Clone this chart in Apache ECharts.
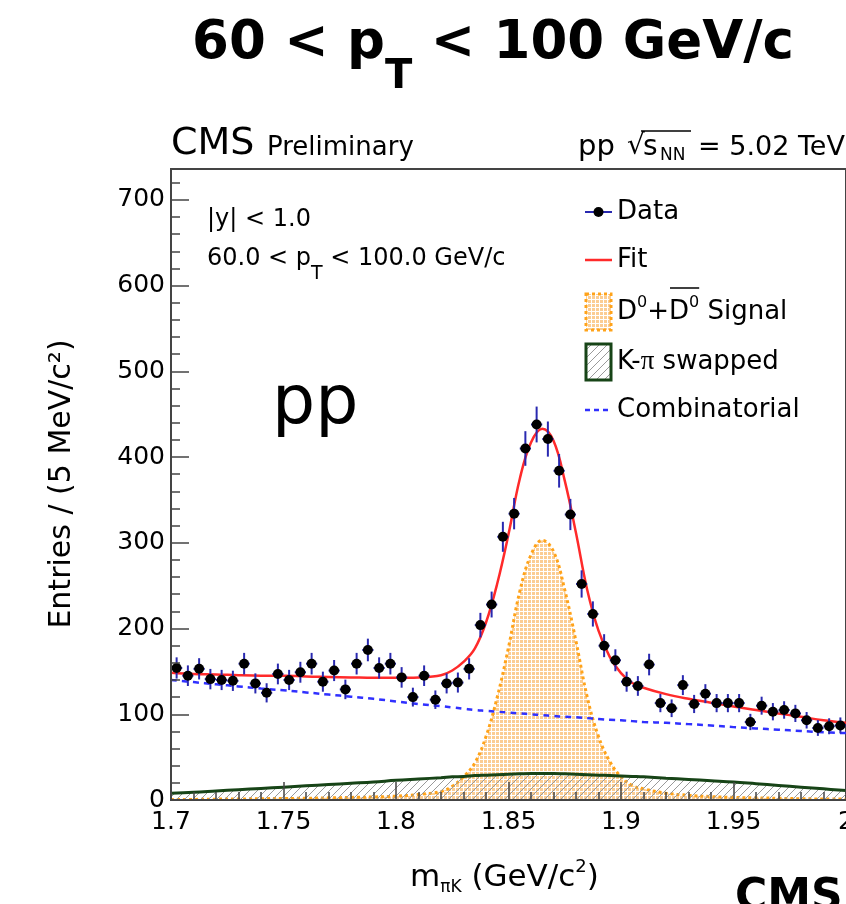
<!DOCTYPE html>
<html>
<head>
<meta charset="utf-8">
<script src="https://cdn.jsdelivr.net/npm/echarts@6/dist/echarts.min.js"></script>
<style>
html,body{margin:0;padding:0;background:#fff;}
#chart{width:846px;height:904px;}
</style>
</head>
<body>
<div id="chart"></div>
<script>
// ---------------- data ----------------
const xTicks = [1.7, 1.75, 1.8, 1.85, 1.9, 1.95, 2.0];
const yTicks = [0, 100, 200, 300, 400, 500, 600, 700];

const massBins = [1.7025,1.7075,1.7125,1.7175,1.7225,1.7275,1.7325,1.7375,1.7425,1.7475,
1.7525,1.7575,1.7625,1.7675,1.7725,1.7775,1.7825,1.7875,1.7925,1.7975,
1.8025,1.8075,1.8125,1.8175,1.8225,1.8275,1.8325,1.8375,1.8425,1.8475,
1.8525,1.8575,1.8625,1.8675,1.8725,1.8775,1.8825,1.8875,1.8925,1.8975,
1.9025,1.9075,1.9125,1.9175,1.9225,1.9275,1.9325,1.9375,1.9425,1.9475,
1.9525,1.9575,1.9625,1.9675,1.9725,1.9775,1.9825,1.9875,1.9925,1.9975];

const entries = [154,145,153,141,140,139,159,136,125,147,
140,149,159,138,151,129,159,175,154,159,
143,120,145,117,136,137,153,204,228,307,
334,410,438,421,384,333,252,217,180,163,
138,133,158,113,107,134,112,124,113,113,
113,91,110,103,105,101,93,84,86,87];

const entryErrors = [12.4,12.0,12.4,11.9,11.8,11.8,12.6,11.7,11.2,12.1,
11.8,12.2,12.6,11.7,12.3,11.4,12.6,13.2,12.4,12.6,
12.0,11.0,12.0,10.8,11.7,11.7,12.4,14.3,15.1,17.5,
18.3,20.2,20.9,20.5,19.6,18.2,15.9,14.7,13.4,12.8,
11.7,11.5,12.6,10.6,10.3,11.6,10.6,11.1,10.6,10.6,
10.6,9.5,10.5,10.1,10.2,10.0,9.6,9.2,9.3,9.3];

const curveMass = [1.700,1.710,1.720,1.730,1.740,1.750,1.760,1.770,1.780,1.790,1.800,1.810,1.820,
1.825,1.830,1.835,1.840,1.845,1.850,1.855,1.860,1.865,1.870,1.875,1.880,1.885,1.890,1.895,1.900,1.905,1.910,
1.920,1.930,1.940,1.950,1.960,1.970,1.980,1.990,2.000];

const fitCurve = [148.5,147,146.5,145.5,145,145,144,143.5,143,142.5,142.5,143,145.5,
151,161,176.5,207,252.5,310,374.5,417,433,419,372.5,311.5,245,197.5,167,148,136.5,131,
123.5,118,113.5,109,105,101,97,93,90];

const signalCurve = [0.5,0.7,1,1.2,1.5,1.8,2,2.5,3,3.5,4.5,6.5,10,
16,27,43,74,120,178,243,286,303,290,245,185,120,74,45,27,17,13,
8,5.5,4,3,2.5,2,1.5,1.2,1];

const swappedCurve = [8,9,10.5,12,13.5,15,16.5,18,19.5,21,23,24.5,26,
27,27.5,28.5,29,29.5,30,30.5,31,31,31,30.5,30,29.5,29,28.5,28,27.5,27,
25.5,24,22.5,21,19,17,15,13,11];

const combCurve = [140,137.5,135,132.5,130,128,125.5,123,120.5,118,115,112,109.5,
108,106.5,105,104,103,102,101,100,99,98,97,96.5,95.5,94.5,93.5,93,92,91,
90,88.5,87,85,83.5,82,80.5,79,78];

// ---------------- styling helpers ----------------
const FONT = '"DejaVu Sans", sans-serif';
const AXIS_COLOR = '#444';

function makeGridPattern() {
  const c = document.createElement('canvas');
  c.width = 4; c.height = 4;
  const g = c.getContext('2d');
  g.fillStyle = '#ffffff'; g.fillRect(0, 0, 4, 4);
  g.fillStyle = '#fbcd94'; g.fillRect(0, 0, 3, 3);
  return c;
}
function makeHatchPattern(bg) {
  const n = 8;
  const c = document.createElement('canvas');
  c.width = n; c.height = n;
  const g = c.getContext('2d');
  if (bg) { g.fillStyle = bg; g.fillRect(0, 0, n, n); }
  g.strokeStyle = '#9a9a9a'; g.lineWidth = 1;
  g.beginPath();
  g.moveTo(0, n); g.lineTo(n, 0);
  g.moveTo(-1, 1); g.lineTo(1, -1);
  g.moveTo(n - 1, n + 1); g.lineTo(n + 1, n - 1);
  g.stroke();
  return c;
}
const gridPat = makeGridPattern();
const hatchPat = makeHatchPattern(null);
const hatchPatWhite = makeHatchPattern('#ffffff');

const mctx = document.createElement('canvas').getContext('2d');
function textWidth(str, size, weight, family) {
  mctx.font = (weight || 'normal') + ' ' + size + 'px ' + (family || FONT);
  return mctx.measureText(str).width;
}
function textEl(x, y, str, size, o) {
  o = o || {};
  return {
    type: 'text', x: x, y: y, rotation: o.rot || 0, z: 100,
    style: {
      text: str, fontSize: size, fontFamily: o.f || FONT, fontWeight: o.w || 'normal',
      fill: o.c || '#000', align: o.align || 'left', verticalAlign: 'middle',
      textAlign: o.align || 'left', textVerticalAlign: 'middle'
    }
  };
}
// lay out a run of text segments (sub/superscripts) left to right
function seq(x, y, segs, els) {
  let cx = x;
  let barStart = null, barEnd = null, barY = null;
  segs.forEach(s => {
    if (s.at !== undefined) cx = s.at;
    els.push(textEl(cx, y + (s.dy || 0), s.t, s.s, { w: s.w, f: s.f }));
    const w = textWidth(s.t, s.s, s.w, s.f);
    if (s.bar) {
      if (barStart === null) barStart = cx;
      barEnd = cx + w; barY = s.barY;
    }
    cx += w;
  });
  if (barStart !== null) {
    els.push({ type: 'line', z: 100, shape: { x1: barStart + 1, y1: barY, x2: barEnd, y2: barY },
      style: { stroke: '#000', lineWidth: 1.5 } });
  }
  return cx;
}

// ---------------- texts & legend ----------------
const G = [];
// main title
seq(192, 44, [
  { t: '60 < p', s: 53, w: 'bold' },
  { t: 'T', s: 40, w: 'bold', dy: 34 },
  { t: ' < 100 GeV/c', s: 53, w: 'bold' }
], G);
// CMS Preliminary
G.push(textEl(171, 144, 'CMS', 38));
G.push(textEl(267, 148, 'Preliminary', 26));
// pp sqrt(s_NN) = 5.02 TeV
G.push(textEl(578, 147, 'pp', 29));
G.push(textEl(627, 147, '\u221A', 28));
G.push(textEl(643, 148, 's', 28));
G.push(textEl(660, 156, 'NN', 17));
G.push({ type: 'line', z: 100, shape: { x1: 641, y1: 131, x2: 691, y2: 131 }, style: { stroke: '#000', lineWidth: 1.5 } });
G.push(textEl(698, 148, '= 5.02 TeV', 27));
// inner labels
G.push(textEl(207, 219.5, '|y| < 1.0', 24));
seq(207, 259, [
  { t: '60.0 < p', s: 24 },
  { t: 'T', s: 19, dy: 15 },
  { t: ' < 100.0 GeV/c', s: 24 }
], G);
G.push(textEl(272, 405, 'pp', 68));
// legend
const LX0 = 585, LX1 = 612, TX = 617;
G.push({ type: 'line', z: 100, shape: { x1: LX0, y1: 212, x2: LX1, y2: 212 }, style: { stroke: '#2929b0', lineWidth: 2 } });
G.push({ type: 'circle', z: 101, shape: { cx: 598.5, cy: 212, r: 5 }, style: { fill: '#000' } });
G.push(textEl(TX, 212, 'Data', 26));
G.push({ type: 'line', z: 100, shape: { x1: LX0, y1: 260, x2: LX1, y2: 260 }, style: { stroke: '#ff2a2a', lineWidth: 2.5 } });
G.push(textEl(TX, 260, 'Fit', 26));
G.push({ type: 'rect', z: 100, shape: { x: 586, y: 294, width: 25, height: 36 },
  style: { fill: { image: gridPat, repeat: 'repeat' }, stroke: '#ffa31a', lineWidth: 3, lineDash: [3, 3] } });
seq(TX, 312, [
  { t: 'D', s: 26 },
  { t: '0', s: 16, dy: -9 },
  { t: '+', s: 26 },
  { t: 'D', s: 26, bar: 1, barY: 288 },
  { t: '0', s: 16, dy: -9, bar: 1, barY: 288 },
  { t: ' Signal', s: 26 }
], G);
G.push({ type: 'rect', z: 100, shape: { x: 586, y: 344, width: 25, height: 36 },
  style: { fill: { image: hatchPatWhite, repeat: 'repeat' }, stroke: '#174417', lineWidth: 3 } });
seq(TX, 362, [
  { t: 'K-', s: 26 },
  { t: '\u03C0', s: 27, f: '"Liberation Serif", serif' },
  { t: ' swapped', s: 26 }
], G);
G.push({ type: 'line', z: 100, shape: { x1: LX0, y1: 410, x2: 610, y2: 410 }, style: { stroke: '#3030ff', lineWidth: 2.5, lineDash: [5, 4] } });
G.push(textEl(TX, 410, 'Combinatorial', 26));
// axis titles
G.push(textEl(62, 484, 'Entries / (5 MeV/c\u00B2)', 30, { rot: Math.PI / 2, align: 'center' }));
seq(410, 878, [
  { t: 'm', s: 31 },
  { t: '\u03C0K', s: 17, dy: 10 },
  { t: ' (GeV/c', s: 31 },
  { t: '2', s: 18, dy: -11 },
  { t: ')', s: 31 }
], G);
// neighbouring panel fragment (bottom right)
G.push(textEl(735, 899, 'CMS', 44, { w: 'bold' }));

// ---------------- chart ----------------
const chart = echarts.init(document.getElementById('chart'), null, { renderer: 'canvas', width: 846, height: 904 });
const gridRect = { left: 171, right: 0, top: 169, bottom: 104 };
const tickStyle = { color: AXIS_COLOR, width: 1.5 };

function pairs(ys) { return curveMass.map((m, i) => [m, ys[i]]); }

const option = {
  animation: false,
  backgroundColor: '#fff',
  grid: [
    Object.assign({ show: true, borderColor: AXIS_COLOR, borderWidth: 2, backgroundColor: 'transparent', containLabel: false, outerBoundsMode: 'none' }, gridRect),
    Object.assign({ show: false, containLabel: false, outerBoundsMode: 'none' }, gridRect)
  ],
  xAxis: [{
    gridIndex: 0, type: 'value', min: xTicks[0], max: xTicks[xTicks.length - 1], interval: 0.05,
    position: 'bottom', z: 10,
    axisLine: { show: true, lineStyle: { color: AXIS_COLOR, width: 2 } },
    axisTick: { show: true, inside: true, length: 18, lineStyle: tickStyle },
    minorTick: { show: true, splitNumber: 5, length: 8, lineStyle: tickStyle },
    splitLine: { show: false },
    axisLabel: {
      show: true, margin: 10, fontSize: 25, fontFamily: FONT, color: '#000',
      formatter: v => String(+(+v).toFixed(3))
    }
  }, {
    gridIndex: 1, type: 'value', min: xTicks[0], max: xTicks[xTicks.length - 1], show: false
  }],
  yAxis: [{
    gridIndex: 0, type: 'value', min: 0, max: 736, interval: 100, position: 'left', z: 10,
    axisLine: { show: true, lineStyle: { color: AXIS_COLOR, width: 2 } },
    axisTick: { show: true, inside: true, length: 18, lineStyle: tickStyle },
    splitLine: { show: false },
    axisLabel: {
      show: true, margin: 6, fontSize: 25, fontFamily: FONT, color: '#000', showMaxLabel: false,
      formatter: v => (yTicks.indexOf(Math.round(v)) >= 0 ? String(Math.round(v)) : '')
    }
  }, {
    gridIndex: 1, type: 'value', min: 0, max: 736, interval: 20, position: 'left', z: 10,
    axisLine: { show: false },
    axisTick: { show: true, inside: true, length: 9, lineStyle: tickStyle },
    axisLabel: { show: false },
    splitLine: { show: false }
  }],
  graphic: { elements: G },
  series: [
    {
      name: 'Signal', type: 'line', xAxisIndex: 0, yAxisIndex: 0, data: pairs(signalCurve),
      smooth: 0.4, symbol: 'none', silent: true, z: 2,
      lineStyle: { color: '#ffa31a', width: 3, type: [3, 3] },
      areaStyle: { color: { image: gridPat, repeat: 'repeat' }, opacity: 1 }
    },
    {
      name: 'K-pi swapped', type: 'line', xAxisIndex: 0, yAxisIndex: 0, data: pairs(swappedCurve),
      smooth: 0.4, symbol: 'none', silent: true, z: 3,
      lineStyle: { color: '#174417', width: 3 },
      areaStyle: { color: { image: hatchPat, repeat: 'repeat' }, opacity: 1 }
    },
    {
      name: 'Combinatorial', type: 'line', xAxisIndex: 0, yAxisIndex: 0, data: pairs(combCurve),
      smooth: 0.4, symbol: 'none', silent: true, z: 4,
      lineStyle: { color: '#3030ff', width: 2.5, type: [6, 5] }
    },
    {
      name: 'Fit', type: 'line', xAxisIndex: 0, yAxisIndex: 0, data: pairs(fitCurve),
      smooth: 0.4, symbol: 'none', silent: true, z: 5,
      lineStyle: { color: '#ff2a2a', width: 2.5 }
    },
    {
      name: 'Data', type: 'custom', xAxisIndex: 0, yAxisIndex: 0, z: 6, silent: true,
      data: massBins.map((m, i) => [m, entries[i], entryErrors[i]]),
      encode: { x: 0, y: 1 },
      renderItem: function (params, api) {
        const x = api.value(0), y = api.value(1), e = api.value(2);
        const c = api.coord([x, y]);
        const t = api.coord([x, y + e]);
        const b = api.coord([x, y - e]);
        const l = api.coord([x - 0.0025, y]);
        const r = api.coord([x + 0.0025, y]);
        return {
          type: 'group',
          children: [
            { type: 'line', shape: { x1: c[0], y1: t[1], x2: c[0], y2: b[1] }, style: { stroke: '#2929b0', lineWidth: 2 } },
            { type: 'line', shape: { x1: l[0], y1: c[1], x2: r[0], y2: c[1] }, style: { stroke: '#2929b0', lineWidth: 2 } },
            { type: 'circle', shape: { cx: c[0], cy: c[1], r: 5 }, style: { fill: '#000' } }
          ]
        };
      }
    }
  ]
};
chart.setOption(option);
</script>
</body>
</html>
